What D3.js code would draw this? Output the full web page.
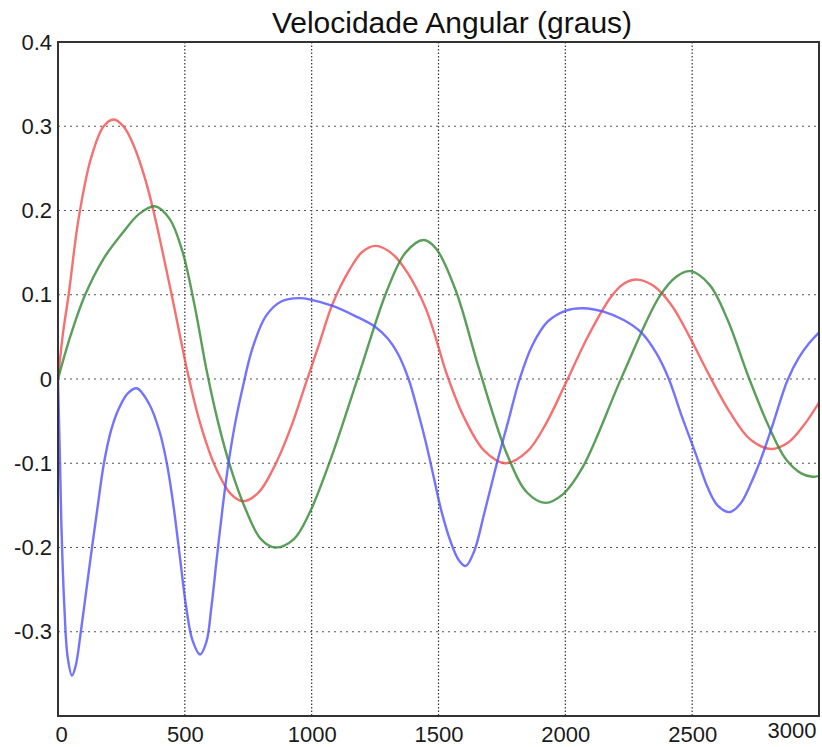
<!DOCTYPE html>
<html>
<head>
<meta charset="utf-8">
<script src="https://cdn.jsdelivr.net/npm/d3@7"></script>
<style>
  body { margin: 0; background: #fff; }
  text { font-family: "Liberation Sans", Arial, sans-serif; }
</style>
</head>
<body>
<div id="chart"></div>
<script>
// chart values
const xTicks = [0, 500, 1000, 1500, 2000, 2500, 3000];
const yTicks = [-0.3, -0.2, -0.1, 0, 0.1, 0.2, 0.3, 0.4];

const redT = [0, 20, 42, 81, 130, 180, 220, 260, 300, 340, 376, 448, 513, 560, 620, 680, 730, 790, 856, 920, 974, 1030, 1081, 1150, 1200, 1252, 1320, 1380, 1448, 1490, 1530, 1600, 1680, 1764, 1850, 1920, 2000, 2090, 2179, 2230, 2284, 2350, 2420, 2490, 2568, 2650, 2730, 2810, 2880, 2940, 3000];
const redV = [0, 0.055, 0.1, 0.19, 0.262, 0.3, 0.308, 0.299, 0.276, 0.241, 0.2, 0.1, 0.005, -0.052, -0.104, -0.136, -0.145, -0.135, -0.102, -0.056, -0.008, 0.042, 0.088, 0.13, 0.151, 0.158, 0.148, 0.125, 0.085, 0.048, 0.008, -0.045, -0.085, -0.1, -0.086, -0.055, -0.006, 0.051, 0.097, 0.113, 0.118, 0.11, 0.087, 0.05, 0.004, -0.04, -0.072, -0.083, -0.075, -0.055, -0.028];

const greenT = [0, 50, 107, 180, 251, 320, 382, 440, 490, 540, 586, 630, 680, 740, 800, 856, 930, 990, 1075, 1186, 1297, 1370, 1441, 1490, 1568, 1660, 1771, 1850, 1921, 1990, 2068, 2225, 2369, 2440, 2493, 2568, 2640, 2719, 2800, 2869, 2930, 2974, 3000];
const greenV = [0, 0.052, 0.1, 0.143, 0.172, 0.196, 0.205, 0.19, 0.152, 0.085, 0.01, -0.05, -0.105, -0.155, -0.19, -0.2, -0.19, -0.16, -0.095, 0.005, 0.105, 0.15, 0.165, 0.155, 0.105, 0.012, -0.09, -0.135, -0.147, -0.137, -0.105, 0.004, 0.097, 0.122, 0.128, 0.112, 0.07, 0.005, -0.055, -0.095, -0.112, -0.116, -0.115];

const blueT = [0, 8, 14, 25, 38, 55, 70, 90, 112, 134, 157, 181, 210, 240, 275, 311, 360, 400, 429, 455, 480, 505, 530, 560, 585, 605, 627, 650, 673, 700, 732, 765, 820, 880, 950, 1000, 1080, 1170, 1250, 1300, 1340, 1382, 1420, 1450, 1480, 1510, 1550, 1580, 1607, 1640, 1680, 1730, 1775, 1820, 1870, 1930, 2000, 2070, 2150, 2230, 2300, 2360, 2408, 2460, 2513, 2560, 2600, 2647, 2690, 2730, 2771, 2820, 2875, 2920, 2960, 3000];
const blueV = [0, -0.1, -0.18, -0.27, -0.33, -0.352, -0.34, -0.3, -0.25, -0.2, -0.15, -0.1, -0.06, -0.035, -0.017, -0.011, -0.03, -0.062, -0.1, -0.15, -0.21, -0.27, -0.31, -0.327, -0.312, -0.27, -0.21, -0.15, -0.098, -0.05, -0.005, 0.035, 0.075, 0.092, 0.096, 0.094, 0.087, 0.075, 0.062, 0.048, 0.03, 0, -0.04, -0.075, -0.115, -0.155, -0.195, -0.215, -0.222, -0.205, -0.16, -0.1, -0.05, 0, 0.04, 0.068, 0.081, 0.084, 0.08, 0.07, 0.055, 0.03, 0, -0.045, -0.088, -0.128, -0.15, -0.158, -0.148, -0.125, -0.095, -0.052, -0.002, 0.025, 0.042, 0.055];

const series = [
    { t: redT, v: redV, color: "#f24c4c" },
    { t: greenT, v: greenV, color: "#2f862f" },
    { t: blueT, v: blueV, color: "#5050ff" }
];

// set the dimensions and margins of the graph
const margin = { top: 42, right: 3, bottom: 31, left: 58 },
    width = 822 - margin.left - margin.right,
    height = 747 - margin.top - margin.bottom;

const svg = d3.select("#chart")
    .append("svg")
    .attr("width", 822)
    .attr("height", 747)
    .append("g")
    .attr("transform", `translate(${margin.left},${margin.top})`);

const x = d3.scaleLinear().domain([0, 3000]).range([0, width]);
const y = d3.scaleLinear().domain([-0.4, 0.4]).range([height, 0]);

// grid
svg.append("g")
    .selectAll("line")
    .data(xTicks.slice(1, -1))
    .join("line")
    .attr("x1", d => x(d)).attr("x2", d => x(d))
    .attr("y1", 0).attr("y2", height)
    .attr("stroke", "#333")
    .attr("stroke-width", 1.2)
    .attr("stroke-dasharray", "1.5,2");
svg.append("g")
    .selectAll("line")
    .data(yTicks.filter(d => d !== 0.4))
    .join("line")
    .attr("x1", 0).attr("x2", width)
    .attr("y1", d => y(d)).attr("y2", d => y(d))
    .attr("stroke", "#555")
    .attr("stroke-width", 1.2)
    .attr("stroke-dasharray", "2,4");

// lines
svg.append("clipPath").attr("id", "clip")
    .append("rect").attr("width", width).attr("height", height);

const line = d3.line()
    .x(d => x(d[0]))
    .y(d => y(d[1]))
    .curve(d3.curveCatmullRom.alpha(0.5));

svg.append("g")
    .attr("clip-path", "url(#clip)")
    .selectAll("path")
    .data(series)
    .join("path")
    .attr("d", s => line(s.t.map((t, i) => [t, s.v[i]])))
    .attr("fill", "none")
    .attr("stroke", s => s.color)
    .attr("stroke-width", 2.4)
    .attr("stroke-opacity", 0.8);

// frame
svg.append("rect")
    .attr("width", width)
    .attr("height", height)
    .attr("fill", "none")
    .attr("stroke", "#333")
    .attr("stroke-width", 2);

// Y axis labels
const yAxis = svg.append("g")
    .call(d3.axisLeft(y).tickValues(yTicks).tickSize(0).tickPadding(6)
        .tickFormat(d => String(+d.toFixed(1))));
yAxis.select(".domain").remove();
yAxis.selectAll("text")
    .attr("font-size", "22px")
    .attr("font-family", "Liberation Sans, Arial, sans-serif")
    .attr("fill", "#1a1a1a");

// X axis labels
const xAxis = svg.append("g")
    .attr("transform", `translate(0, ${height})`)
    .call(d3.axisBottom(x).tickValues(xTicks).tickSize(0).tickPadding(10)
        .tickFormat(d => String(d)));
xAxis.select(".domain").remove();
xAxis.selectAll("text")
    .attr("font-size", "22px")
    .attr("font-family", "Liberation Sans, Arial, sans-serif")
    .attr("fill", "#1a1a1a");
xAxis.selectAll(".tick")
    .filter(d => d === 0)
    .select("text").attr("dx", 3);
xAxis.selectAll(".tick")
    .filter(d => d === 3000)
    .select("text")
    .attr("text-anchor", "end")
    .attr("dx", -3)
    .attr("dy", "0.55em");

// title
svg.append("text")
    .attr("x", 452 - margin.left)
    .attr("y", -9)
    .attr("text-anchor", "middle")
    .attr("font-size", "30px")
    .attr("fill", "#111")
    .text("Velocidade Angular (graus)");
</script>
</body>
</html>
